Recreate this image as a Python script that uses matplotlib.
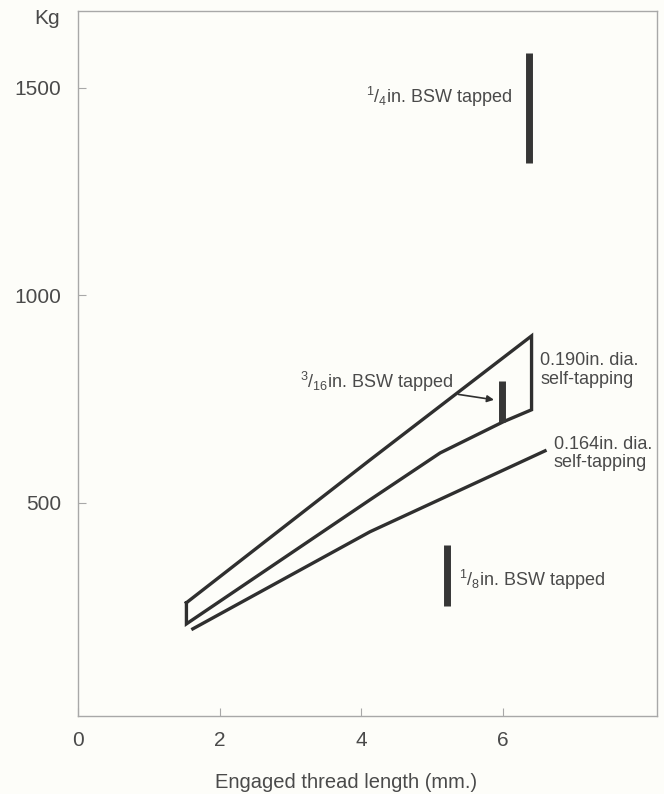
import matplotlib

matplotlib.use("Agg")
import matplotlib.pyplot as plt


# 0.190in. dia. self-tapping: closed envelope (upper edge, right edge, lower edge, left edge)
ENVELOPE_190_X = [1.53, 4.12, 6.40, 6.40, 6.00, 5.11, 4.12, 1.53, 1.53]
ENVELOPE_190_Y = [259, 603, 902, 724, 695, 620, 507, 208, 259]

# 0.164in. dia. self-tapping
LINE_164_X = [1.62, 4.12, 6.59]
LINE_164_Y = [196, 430, 625]

# BSW tapped ranges: x position, min, max (Kg)
BSW_NAMES = ["1/8", "3/16", "1/4"]
BSW_X = [5.20, 5.98, 6.37]
BSW_LOW = [251, 695, 1319]
BSW_HIGH = [399, 794, 1584]

X_TICKS = [0, 2, 4, 6]
Y_TICKS = [500, 1000, 1500]
X_LIMITS = (0, 8.17)
Y_LIMITS = (-14, 1685)

LINE_COLOR = "#2f2f2f"
TEXT_COLOR = "#4a4a4a"
SPINE_COLOR = "#a8a8a8"
BG_COLOR = "#fdfdf9"


def setup_fonts():
    plt.rcParams["font.family"] = ["Liberation Sans", "DejaVu Sans"]
    plt.rcParams["mathtext.fontset"] = "custom"
    plt.rcParams["mathtext.rm"] = "Liberation Sans"
    plt.rcParams["mathtext.it"] = "Liberation Sans"
    plt.rcParams["mathtext.default"] = "regular"


def frac(num, den):
    return r"$^{" + num + r"}/_{" + den + r"}$"


def draw_chart():
    fig = plt.figure(figsize=(6.64, 7.94), dpi=100, facecolor=BG_COLOR)
    ax = fig.add_axes([78 / 664, 78 / 794, 579 / 664, 705 / 794])
    ax.set_facecolor(BG_COLOR)

    ax.plot(ENVELOPE_190_X, ENVELOPE_190_Y, color=LINE_COLOR, linewidth=2.4,
            solid_joinstyle="miter")
    ax.plot(LINE_164_X, LINE_164_Y, color=LINE_COLOR, linewidth=2.4)

    ax.vlines(BSW_X, BSW_LOW, BSW_HIGH, color="#363636", linewidth=5)

    label_kw = dict(fontsize=13, color=TEXT_COLOR)
    ax.text(6.13, 1478, frac("1", "4") + "in. BSW tapped", ha="right", va="center", **label_kw)
    ax.text(5.37, 314, frac("1", "8") + "in. BSW tapped", ha="left", va="center", **label_kw)
    ax.annotate(frac("3", "16") + "in. BSW tapped", xy=(5.87, 748), xytext=(5.29, 791),
                ha="right", va="center",
                arrowprops=dict(arrowstyle="-|>", color=LINE_COLOR, linewidth=1.2,
                                mutation_scale=10, shrinkA=2, shrinkB=0),
                **label_kw)
    ax.text(6.52, 820, "0.190in. dia.\nself-tapping", ha="left", va="center",
            linespacing=1.1, **label_kw)
    ax.text(6.71, 618, "0.164in. dia.\nself-tapping", ha="left", va="center",
            linespacing=1.1, **label_kw)

    ax.set_xlim(*X_LIMITS)
    ax.set_ylim(*Y_LIMITS)
    ax.set_xticks(X_TICKS)
    ax.set_yticks(Y_TICKS)
    ax.tick_params(direction="in", length=6, width=0.8, color=SPINE_COLOR,
                   labelsize=15, labelcolor=TEXT_COLOR)
    ax.tick_params(axis="x", pad=11)
    ax.tick_params(axis="y", pad=12)
    for spine in ax.spines.values():
        spine.set_color(SPINE_COLOR)
        spine.set_linewidth(1.0)

    ax.text(-0.031, 0.99, "Kg", transform=ax.transAxes, ha="right", va="center",
            fontsize=15, color=TEXT_COLOR)
    fig.text(346 / 664, 1 - 783 / 794, "Engaged thread length (mm.)", ha="center",
             va="center", fontsize=14.5, color=TEXT_COLOR)

    fig.savefig("out.png", dpi=100, facecolor=BG_COLOR)


def main():
    setup_fonts()
    draw_chart()


if __name__ == "__main__":
    main()
